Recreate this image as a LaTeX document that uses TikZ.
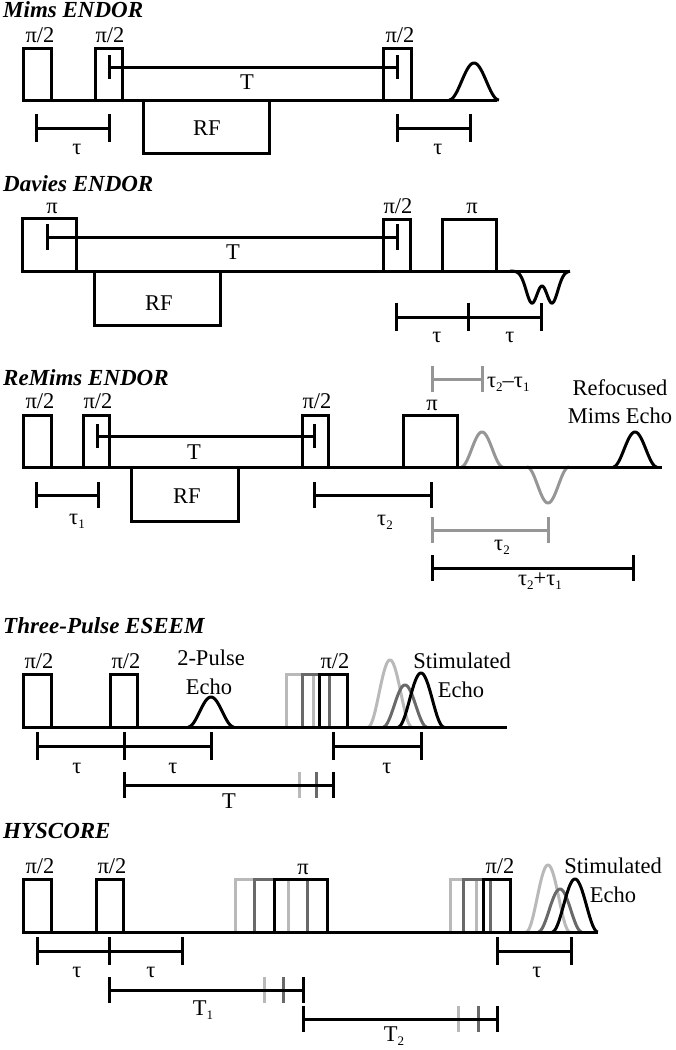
\documentclass[tikz,border=0pt]{standalone}
\usepackage{fontspec}
\setmainfont{Liberation Serif}
\definecolor{ghostlight}{RGB}{185,185,185}
\definecolor{ghostmid}{RGB}{105,105,105}
\definecolor{remgray}{RGB}{150,150,150}
\newcommand\sbs[1]{\raisebox{-4.5pt}{\fontsize{13}{13}\selectfont #1}}
% bar with end ticks: [style]{x1}{x2}{y}{half tick}
\newcommand\tbar[5][ln]{\draw[#1] (#2,#4-#5) -- (#2,#4+#5) (#2,#4) -- (#3,#4) (#3,#4-#5) -- (#3,#4+#5);}
% raised-cosine echo: [style]{x0}{base}{height}{halfwidth}
\newcommand\echo[5][ln]{\draw[#1] plot[domain={#2-#5}:{#2+#5}, samples=60, smooth] (\x, {#3-#4*(1+cos(180*(\x-#2)/#5))/2});}
\newcommand\ghosttick[4][ln]{\draw[#1] (#2,#3-#4) -- (#2,#3+#4);}
\tikzset{
  ln/.style={line width=3pt, line cap=butt, line join=miter},
  lg/.style={ln, color=ghostlight},
  mg/.style={ln, color=ghostmid},
  rg/.style={ln, color=remgray},
  lbl/.style={font=\fontsize{22.5}{25}\selectfont, inner sep=0pt, anchor=base},
  ttl/.style={font=\fontsize{23}{26}\selectfont\bfseries\itshape, inner sep=0pt, anchor=base west},
}
\begin{document}
\begin{tikzpicture}[x=1pt,y=-1pt]
\useasboundingbox (0,0) rectangle (675,1050);
% ================= Mims ENDOR =================
\node[ttl] (mimsT) at (3,17) {Mims ENDOR};
\echo{474}{100}{37}{25}
\draw[ln] (23,100) -- (497,100);
\draw[ln] (23,100) rectangle (51,48);
\draw[ln] (95,100) rectangle (122,48);
\draw[ln] (383,100) rectangle (411,48);
\draw[ln] (143,100) rectangle (269,153);
\tbar{109}{397}{67}{12}
\tbar{36}{109}{128}{14}
\tbar{397}{470}{128}{14}
\node[lbl] (m1) at (40,42) {π/2};
\node[lbl] (m2) at (110,42) {π/2};
\node[lbl] (m3) at (400,42) {π/2};
\node[lbl] (mT) at (247,89) {T};
\node[lbl] (mRF) at (207,135) {RF};
\node[lbl] (mt1) at (77,154) {τ};
\node[lbl] (mt2) at (438,154) {τ};
% ================= Davies ENDOR =================
\node[ttl] (davT) at (3,191) {Davies ENDOR};
\draw[ln] plot[domain=510:570, samples=90, smooth] (\x, {271+32*(exp(-((\x-532)/8.3)^2)+exp(-((\x-552)/8.3)^2))});
\draw[ln] (22,271) -- (568,271);
\draw[ln] (22,271) rectangle (76,218);
\draw[ln] (383,271) rectangle (410,219);
\draw[ln] (442,271) rectangle (496,219);
\draw[ln] (94,271) rectangle (220,325);
\tbar{47}{397}{237}{13}
\tbar{396}{468}{317}{14}
\tbar{468}{541}{317}{14}
\node[lbl] (d1) at (52,213) {π};
\node[lbl] (d2) at (398,213) {π/2};
\node[lbl] (d3) at (472,213) {π};
\node[lbl] (dT) at (233,259) {T};
\node[lbl] (dRF) at (159,310) {RF};
\node[lbl] (dt1) at (437,342) {τ};
\node[lbl] (dt2) at (510,342) {τ};
% ================= ReMims ENDOR =================
\node[ttl] (remT) at (3,385) {ReMims ENDOR};
\echo[rg]{482}{467}{35}{21}
\echo[rg]{548}{467}{-36}{21}
\echo{635}{467}{35}{22}
\draw[ln] (23,467) -- (662,467);
\draw[ln] (23,467) rectangle (51,415);
\draw[ln] (83,467) rectangle (109,415);
\draw[ln] (302,467) rectangle (328,415);
\draw[ln] (403,467) rectangle (457,415);
\draw[ln] (131,467) rectangle (238,521);
\tbar{97}{314}{436}{12}
\tbar{36}{98}{495}{13}
\tbar{314}{431}{495}{13}
\tbar[rg]{432}{482}{379}{13}
\tbar[rg]{432}{548}{530}{13}
\tbar{432}{633}{568}{13}
\node[lbl] (r1) at (40,408) {π/2};
\node[lbl] (r2) at (98,408) {π/2};
\node[lbl] (r3) at (317,408) {π/2};
\node[lbl] (r4) at (432,410) {π};
\node[lbl] (rT) at (194,459) {T};
\node[lbl] (rRF) at (187,503) {RF};
\node[lbl] (rt1) at (77,524) {τ\sbs{1}};
\node[lbl] (rt2) at (385,525) {τ\sbs{2}};
\node[lbl, anchor=base west] (rdiff) at (487,387) {τ\sbs{2}–τ\sbs{1}};
\node[lbl] (rg2) at (502,550) {τ\sbs{2}};
\node[lbl] (rsum) at (540,585) {τ\sbs{2}+τ\sbs{1}};
\node[lbl] (ref1) at (620,395) {Refocused};
\node[lbl] (ref2) at (620,423) {Mims Echo};
% ================= Three-Pulse ESEEM =================
\node[ttl] (tpT) at (3,633) {Three-Pulse ESEEM};
\draw[lg] (286,727) rectangle (313,674);
\draw[mg] (302,727) rectangle (329,674);
\echo[lg]{390}{727}{67}{22}
\echo[mg]{405}{727}{42}{22}
\echo{421}{727}{54}{23}
\echo{211}{727}{30}{23}
\draw[ln] (23,727) -- (507,727);
\draw[ln] (23,727) rectangle (51,674);
\draw[ln] (110,727) rectangle (137,674);
\draw[ln] (319,727) rectangle (347,674);
\tbar{37}{124}{746}{14}
\tbar{124}{211}{746}{14}
\tbar{333}{421}{746}{14}
\ghosttick[lg]{299}{785}{13}
\ghosttick[mg]{316}{785}{13}
\tbar{124}{333}{785}{13}
\node[lbl] (e1) at (39,668) {π/2};
\node[lbl] (e2) at (126,668) {π/2};
\node[lbl] (e3) at (335,668) {π/2};
\node[lbl] (e2p) at (211,665) {2-Pulse};
\node[lbl] (e2e) at (209,694) {Echo};
\node[lbl] (es1) at (462,668) {Stimulated};
\node[lbl] (es2) at (461,697) {Echo};
\node[lbl] (et1) at (77,773) {τ};
\node[lbl] (et2) at (173,773) {τ};
\node[lbl] (et3) at (387,773) {τ};
\node[lbl] (eT) at (229,808) {T};
% ================= HYSCORE =================
\node[ttl] (hyT) at (3,838) {HYSCORE};
\draw[lg] (235,932) rectangle (288,879);
\draw[mg] (254,932) rectangle (307,879);
\draw[lg] (450,932) rectangle (476,879);
\draw[mg] (463,932) rectangle (490,879);
\echo[lg]{548}{932}{67}{22}
\echo[mg]{560}{932}{43}{22}
\echo{575}{932}{53}{23}
\draw[ln] (23,932) -- (598,932);
\draw[ln] (23,932) rectangle (51,879);
\draw[ln] (96,932) rectangle (123,879);
\draw[ln] (274,932) rectangle (327,879);
\draw[ln] (483,932) rectangle (510,879);
\tbar{37}{109}{951}{14}
\tbar{109}{182}{951}{14}
\tbar{497}{571}{951}{14}
\ghosttick[lg]{264}{990}{13}
\ghosttick[mg]{283}{990}{13}
\tbar{109}{303}{990}{13}
\ghosttick[lg]{458}{1019}{13}
\ghosttick[mg]{478}{1019}{13}
\tbar{303}{497}{1019}{13}
\node[lbl] (h1) at (40,873) {π/2};
\node[lbl] (h2) at (112,873) {π/2};
\node[lbl] (h3) at (303,874) {π};
\node[lbl] (h4) at (500,873) {π/2};
\node[lbl] (hs1) at (613,873) {Stimulated};
\node[lbl] (hs2) at (613,902) {Echo};
\node[lbl] (ht1) at (77,977) {τ};
\node[lbl] (ht2) at (151,977) {τ};
\node[lbl] (ht3) at (537,977) {τ};
\node[lbl] (hT1) at (203,1015) {T\sbs{1}};
\node[lbl] (hT2) at (394,1041) {T\sbs{2}};
\end{tikzpicture}
\end{document}
